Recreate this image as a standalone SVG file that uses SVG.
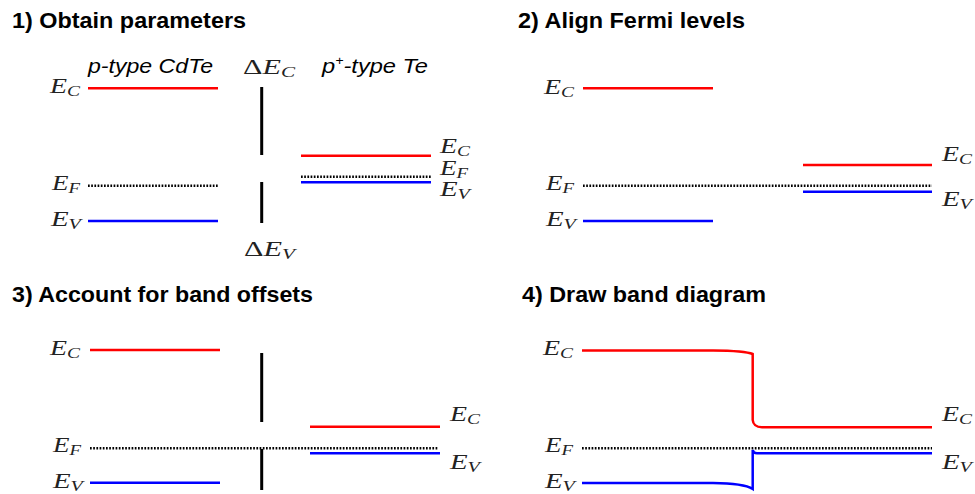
<svg xmlns="http://www.w3.org/2000/svg" width="975" height="494" viewBox="0 0 975 494">
<style>
.title{font-family:"Liberation Sans",Arial,sans-serif;font-weight:bold;font-size:22px;fill:#000}
.mat{font-family:"Liberation Sans",Arial,sans-serif;font-style:italic;font-size:20px;fill:#000}
.m{font-family:"Liberation Serif","Times New Roman",serif;font-style:italic;font-size:20px;fill:#222}
.up{font-style:normal}
.sub{font-size:14px}
.ec{stroke:#ff0000;stroke-width:2.5;fill:none}
.ev{stroke:#0000ff;stroke-width:2.5;fill:none}
.ef{stroke:#000;stroke-width:2.4;stroke-dasharray:1.7 1.5;fill:none}
.off{stroke:#000;stroke-width:3;fill:none}
</style>

<g id="panel1">
  <text class="title" x="12" y="28" textLength="234" lengthAdjust="spacingAndGlyphs">1) Obtain parameters</text>
  <text class="mat" x="88" y="73" textLength="125" lengthAdjust="spacingAndGlyphs">p-type CdTe</text>
  <text class="mat" x="322" y="73" textLength="106" lengthAdjust="spacingAndGlyphs">p<tspan font-size="12" dy="-8">+</tspan><tspan dy="8">-type Te</tspan></text>
  <g id="p1-left">
    <line class="ec" x1="88" y1="88.3" x2="218" y2="88.3"/>
    <line class="ef" x1="88" y1="185.7" x2="218" y2="185.7"/>
    <line class="ev" x1="88" y1="221" x2="218" y2="221"/>
    <text class="m" x="50" y="93" textLength="30" lengthAdjust="spacingAndGlyphs">E<tspan class="sub" dy="3">C</tspan></text>
    <text class="m" x="52" y="190" textLength="28" lengthAdjust="spacingAndGlyphs">E<tspan class="sub" dy="3">F</tspan></text>
    <text class="m" x="51" y="226" textLength="30" lengthAdjust="spacingAndGlyphs">E<tspan class="sub" dy="3">V</tspan></text>
  </g>
  <g id="p1-offsets">
    <line class="off" x1="261.7" y1="87" x2="261.7" y2="155"/>
    <line class="off" x1="261.7" y1="182" x2="261.7" y2="223"/>
    <text class="m" x="243" y="74" textLength="52" lengthAdjust="spacingAndGlyphs"><tspan class="up">Δ</tspan>E<tspan class="sub" dy="3">C</tspan></text>
    <text class="m" x="244" y="256" textLength="51" lengthAdjust="spacingAndGlyphs"><tspan class="up">Δ</tspan>E<tspan class="sub" dy="3">V</tspan></text>
  </g>
  <g id="p1-right">
    <line class="ec" x1="301" y1="155.7" x2="431" y2="155.7"/>
    <line class="ef" x1="301" y1="176.7" x2="431" y2="176.7"/>
    <line class="ev" x1="301" y1="182.3" x2="431" y2="182.3"/>
    <text class="m" x="440" y="152.5" textLength="30" lengthAdjust="spacingAndGlyphs">E<tspan class="sub" dy="3">C</tspan></text>
    <text class="m" x="440" y="175" textLength="28" lengthAdjust="spacingAndGlyphs">E<tspan class="sub" dy="3">F</tspan></text>
    <text class="m" x="440" y="196" textLength="30" lengthAdjust="spacingAndGlyphs">E<tspan class="sub" dy="3">V</tspan></text>
  </g>
</g>

<g id="panel2">
  <text class="title" x="518" y="28" textLength="227" lengthAdjust="spacingAndGlyphs">2) Align Fermi levels</text>
  <g id="p2-left">
    <line class="ec" x1="583" y1="88.3" x2="713" y2="88.3"/>
    <line class="ev" x1="583" y1="221" x2="713" y2="221"/>
    <text class="m" x="544" y="94" textLength="30" lengthAdjust="spacingAndGlyphs">E<tspan class="sub" dy="3">C</tspan></text>
    <text class="m" x="546" y="190" textLength="28" lengthAdjust="spacingAndGlyphs">E<tspan class="sub" dy="3">F</tspan></text>
    <text class="m" x="546" y="226" textLength="30" lengthAdjust="spacingAndGlyphs">E<tspan class="sub" dy="3">V</tspan></text>
  </g>
  <line class="ef" x1="583" y1="185.7" x2="932" y2="185.7"/>
  <g id="p2-right">
    <line class="ec" x1="803" y1="165" x2="932" y2="165"/>
    <line class="ev" x1="803" y1="191.7" x2="932" y2="191.7"/>
    <text class="m" x="942" y="161" textLength="30" lengthAdjust="spacingAndGlyphs">E<tspan class="sub" dy="3">C</tspan></text>
    <text class="m" x="942" y="206" textLength="30" lengthAdjust="spacingAndGlyphs">E<tspan class="sub" dy="3">V</tspan></text>
  </g>
</g>

<g id="panel3">
  <text class="title" x="12" y="302" textLength="301" lengthAdjust="spacingAndGlyphs">3) Account for band offsets</text>
  <g id="p3-left">
    <line class="ec" x1="90" y1="350" x2="220" y2="350"/>
    <line class="ev" x1="90" y1="482.7" x2="220" y2="482.7"/>
    <text class="m" x="50" y="355" textLength="30" lengthAdjust="spacingAndGlyphs">E<tspan class="sub" dy="3">C</tspan></text>
    <text class="m" x="53" y="452" textLength="28" lengthAdjust="spacingAndGlyphs">E<tspan class="sub" dy="3">F</tspan></text>
    <text class="m" x="53" y="488" textLength="30" lengthAdjust="spacingAndGlyphs">E<tspan class="sub" dy="3">V</tspan></text>
  </g>
  <line class="ef" x1="90" y1="448.3" x2="438" y2="448.3"/>
  <g id="p3-offsets">
    <line class="off" x1="261.7" y1="353" x2="261.7" y2="422"/>
    <line class="off" x1="261.7" y1="449" x2="261.7" y2="490"/>
  </g>
  <g id="p3-right">
    <line class="ec" x1="310" y1="426.7" x2="440" y2="426.7"/>
    <line class="ev" x1="310" y1="453.3" x2="440" y2="453.3"/>
    <text class="m" x="450" y="421" textLength="30" lengthAdjust="spacingAndGlyphs">E<tspan class="sub" dy="3">C</tspan></text>
    <text class="m" x="450" y="469" textLength="30" lengthAdjust="spacingAndGlyphs">E<tspan class="sub" dy="3">V</tspan></text>
  </g>
</g>

<g id="panel4">
  <text class="title" x="522" y="302" textLength="244" lengthAdjust="spacingAndGlyphs">4) Draw band diagram</text>
  <g id="p4-bands">
    <path class="ec" d="M582,350.5 L713,350.5 C735,350.7 748,352 752.7,354 L752.7,420 C753,424 756,427.3 762,427.3 L932,427.3"/>
    <line class="ef" x1="582" y1="448.3" x2="932" y2="448.3"/>
    <path class="ev" d="M582,483 L713,483 C735,483.2 748,486 752.7,489 L752.7,450 C753,451.5 754,453.3 757,453.3 L932,453.3"/>
  </g>
  <g id="p4-labels">
    <text class="m" x="543" y="355" textLength="30" lengthAdjust="spacingAndGlyphs">E<tspan class="sub" dy="3">C</tspan></text>
    <text class="m" x="545" y="452" textLength="28" lengthAdjust="spacingAndGlyphs">E<tspan class="sub" dy="3">F</tspan></text>
    <text class="m" x="545" y="488" textLength="30" lengthAdjust="spacingAndGlyphs">E<tspan class="sub" dy="3">V</tspan></text>
    <text class="m" x="942" y="421" textLength="30" lengthAdjust="spacingAndGlyphs">E<tspan class="sub" dy="3">C</tspan></text>
    <text class="m" x="942" y="469" textLength="30" lengthAdjust="spacingAndGlyphs">E<tspan class="sub" dy="3">V</tspan></text>
  </g>
</g>
</svg>
